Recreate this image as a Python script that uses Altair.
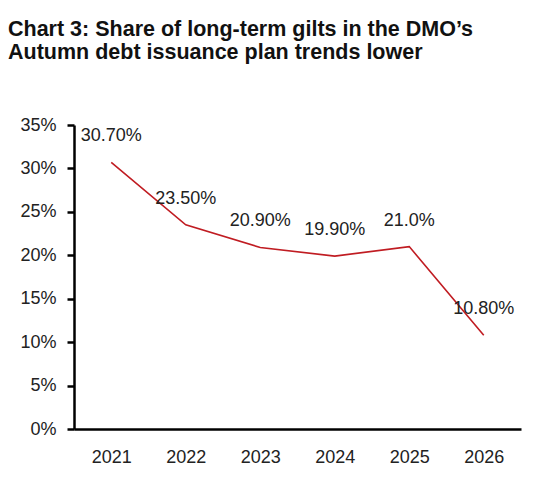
import altair as alt
import pandas as pd

years = ["2021", "2022", "2023", "2024", "2025", "2026"]
shares = [0.307, 0.235, 0.209, 0.199, 0.210, 0.108]
labels = ["30.70%", "23.50%", "20.90%", "19.90%", "21.0%", "10.80%"]
y_ticks = [0, 0.05, 0.10, 0.15, 0.20, 0.25, 0.30, 0.35]
title_lines = ["Chart 3: Share of long-term gilts in the DMO\u2019s",
               "Autumn debt issuance plan trends lower"]

df = pd.DataFrame({"year": years, "share": shares, "label": labels})

FONT = "Liberation Sans"

x = alt.X("year:N", sort=years, title=None,
          scale=alt.Scale(paddingInner=0, paddingOuter=0),
          axis=alt.Axis(labelAngle=0, ticks=False, tickSize=0, labelPadding=19,
                        domainColor="black", domainWidth=2.5, labelFont=FONT,
                        labelFontSize=18, labelColor="#222", grid=False))
y = alt.Y("share:Q", title=None,
          scale=alt.Scale(domain=[0, 0.35], nice=False),
          axis=alt.Axis(values=y_ticks, format=".0%", grid=False,
                        domainColor="black", domainWidth=2.5, tickColor="black",
                        tickWidth=2.5, tickSize=7, labelPadding=11, labelFont=FONT,
                        labelFontSize=18, labelColor="#222"))

line = alt.Chart(df).mark_line(color="#C01C22", strokeWidth=1.6).encode(x=x, y=y)
text = alt.Chart(df).mark_text(font=FONT, fontSize=18, color="#222", dy=-26,
                               baseline="middle", align="center").encode(
    x=x, y=y, text="label:N")

chart = alt.layer(line, text).properties(
    width=447, height=304,
    background="white",
    padding={"left": 66, "top": 117, "right": 6, "bottom": 47},
    autosize=alt.AutoSizeParams(type="none"),
    title=alt.TitleParams(text=title_lines, anchor="start", frame="group",
                          dx=-66, offset=53, font=FONT, fontSize=21.5,
                          fontWeight="bold", color="#111", lineHeight=23),
).configure_view(stroke=None)

chart.save("out.html", embed_options={"renderer": "svg", "actions": False})
